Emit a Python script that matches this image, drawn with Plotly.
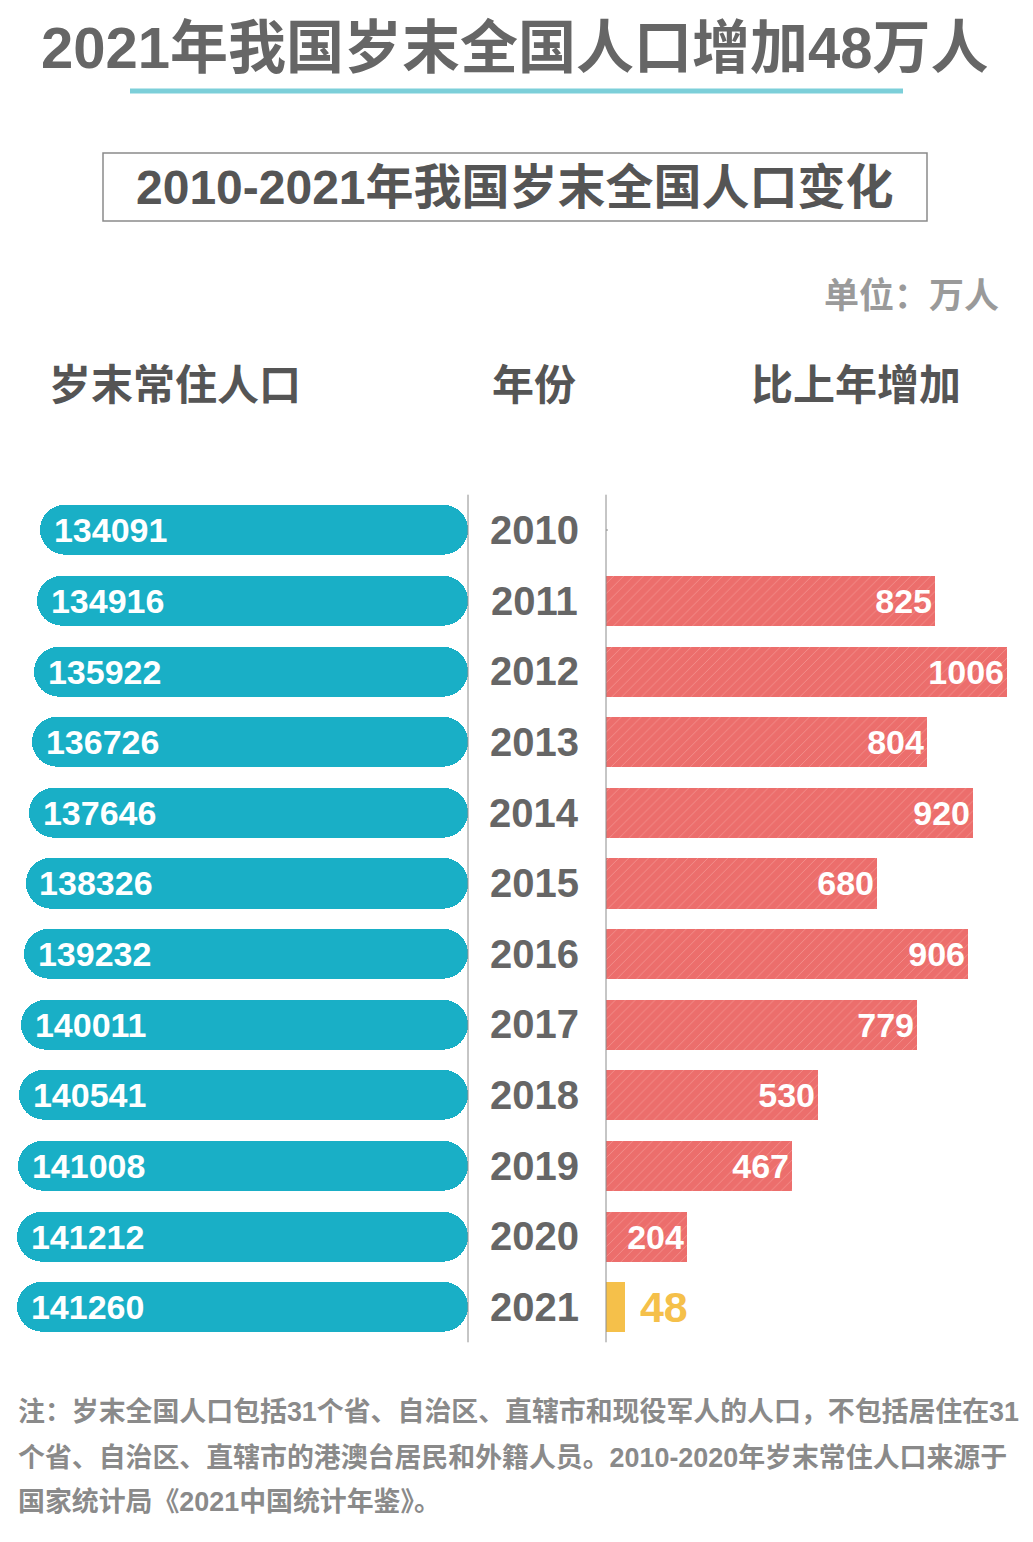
import plotly.graph_objects as go

# page is offset by the browser's 8px body margin
OFF = 8
PW, PH = 1033, 1542
FW, FH = PW - OFF, PH - OFF

years = ["2010", "2011", "2012", "2013", "2014", "2015", "2016", "2017", "2018", "2019", "2020", "2021"]
population = [134091, 134916, 135922, 136726, 137646, 138326, 139232, 140011, 140541, 141008, 141212, 141260]
increase = [None, 825, 1006, 804, 920, 680, 906, 779, 530, 467, 204, 48]
highlight_year = "2021"

title = "2021年我国岁末全国人口增加48万人"
subtitle = "2010-2021年我国岁末全国人口变化"
unit_label = "单位：万人"
col_headers = ["岁末常住人口", "年份", "比上年增加"]
footnote = [
    "注：岁末全国人口包括31个省、自治区、直辖市和现役军人的人口，不包括居住在31",
    "个省、自治区、直辖市的港澳台居民和外籍人员。2010-2020年岁末常住人口来源于",
    "国家统计局《2021中国统计年鉴》。",
]

FONT = "Liberation Sans, Noto Sans CJK SC"
CYAN = "#19AFC6"
RED = "#EC6E6C"
HATCH = "#F8ABA8"
YELLOW = "#F5C04A"
GREY = "#666666"


def px(xp):
    return (xp - OFF) / FW


def py(yp):
    return 1 - (yp - OFF) / FH


idx = list(range(len(years)))
fig = go.Figure()

# left pill bars (base given -> both ends rounded)
fig.add_trace(go.Bar(
    y=idx, x=population, base=[0] * len(years), orientation="h",
    marker=dict(color=CYAN, line=dict(width=0), cornerradius=25),
    width=0.71, xaxis="x", yaxis="y",
    text=[str(v) for v in population], textposition="inside", insidetextanchor="end",
    textfont=dict(family=FONT, size=34, color="white", weight="bold"),
    hoverinfo="skip", showlegend=False,
))

# right bars: hatched red for ordinary years
red_vals = [None if y == highlight_year else v for y, v in zip(years, increase)]
fig.add_trace(go.Bar(
    y=idx, x=red_vals, orientation="h",
    marker=dict(color=RED, line=dict(width=0),
                pattern=dict(shape="/", bgcolor=RED, fgcolor=HATCH, size=7, solidity=0.14)),
    width=0.71, xaxis="x2", yaxis="y",
    text=[("" if v is None else str(v)) for v in red_vals],
    textposition="inside", insidetextanchor="end",
    textfont=dict(family=FONT, size=34, color="white", weight="bold"),
    hoverinfo="skip", showlegend=False,
))
# highlighted year in yellow
yel_vals = [v if y == highlight_year else None for y, v in zip(years, increase)]
fig.add_trace(go.Bar(
    y=idx, x=yel_vals, orientation="h",
    marker=dict(color=YELLOW, line=dict(width=0)),
    width=0.71, xaxis="x2", yaxis="y",
    text=[("" if v is None else " " + str(v)) for v in yel_vals],
    textposition="outside",
    textfont=dict(family=FONT, size=43, color=YELLOW, weight="bold"),
    cliponaxis=False, hoverinfo="skip", showlegend=False,
))

annotations = []
for i, yv in enumerate(years):
    annotations.append(dict(
        x=px(534), xref="paper", y=i, yref="y", text=yv, showarrow=False,
        xanchor="center", yanchor="middle",
        font=dict(family=FONT, size=40, color=GREY, weight="bold"),
    ))

annotations += [
    dict(x=px(515), y=py(47), xref="paper", yref="paper", text="<b>" + title + "</b>",
         showarrow=False, xanchor="center", yanchor="middle",
         font=dict(family=FONT, size=58, color="#666666")),
    dict(x=px(515), y=py(187), xref="paper", yref="paper", text="<b>" + subtitle + "</b>",
         showarrow=False, xanchor="center", yanchor="middle",
         font=dict(family=FONT, size=48, color="#555555")),
    dict(x=px(1001), y=py(295), xref="paper", yref="paper", text="<b>" + unit_label + "</b>",
         showarrow=False, xanchor="right", yanchor="middle",
         font=dict(family=FONT, size=35, color="#9A9A9A")),
]
hdr_x = [(px(47), "left"), (px(534), "center"), (px(856), "center")]
for (hx, anc), txt in zip(hdr_x, col_headers):
    annotations.append(dict(
        x=hx, y=py(386), xref="paper", yref="paper", text="<b>" + txt + "</b>",
        showarrow=False, xanchor=anc, yanchor="middle",
        font=dict(family=FONT, size=42, color="#555555")))

for i, line in enumerate(footnote):
    annotations.append(dict(
        x=px(16), y=py(1412 + 45 * i), xref="paper", yref="paper", text="<b>" + line + "</b>",
        showarrow=False, xanchor="left", yanchor="middle",
        font=dict(family=FONT, size=26.9, color="#8A8A8A")))

shapes = [
    dict(type="line", xref="paper", yref="paper", x0=px(130), x1=px(903), y0=py(91), y1=py(91),
         line=dict(color="#7CCFD9", width=5)),
    dict(type="rect", xref="paper", yref="paper", x0=px(103), x1=px(927), y0=py(221), y1=py(153),
         line=dict(color="#8A8A8A", width=1.5)),
    dict(type="line", xref="paper", yref="y domain", x0=px(468), x1=px(468), y0=0, y1=1,
         line=dict(color="#8C8C8C", width=1)),
    dict(type="line", xref="paper", yref="y domain", x0=px(606), x1=px(606), y0=0, y1=1,
         line=dict(color="#8C8C8C", width=1)),
    dict(type="line", xref="x2", yref="y", x0=0, x1=5, y0=0, y1=0,
         line=dict(color="#8C8C8C", width=1)),
]

fig.update_layout(
    width=FW, height=FH, margin=dict(l=0, r=0, t=0, b=0),
    paper_bgcolor="white", plot_bgcolor="white",
    barmode="overlay", bargap=0,
    xaxis=dict(domain=[0, px(468)], range=[(468 - OFF) * 313.3, 0], visible=False,
               fixedrange=True, anchor="y"),
    xaxis2=dict(domain=[px(606), 1], range=[0, 1070], visible=False, fixedrange=True, anchor="y"),
    yaxis=dict(domain=[py(1342.3), py(494.7)], range=[11.5, -0.5],
               visible=False, fixedrange=True),
    annotations=annotations, shapes=shapes,
)

fig.write_html("out.html")
